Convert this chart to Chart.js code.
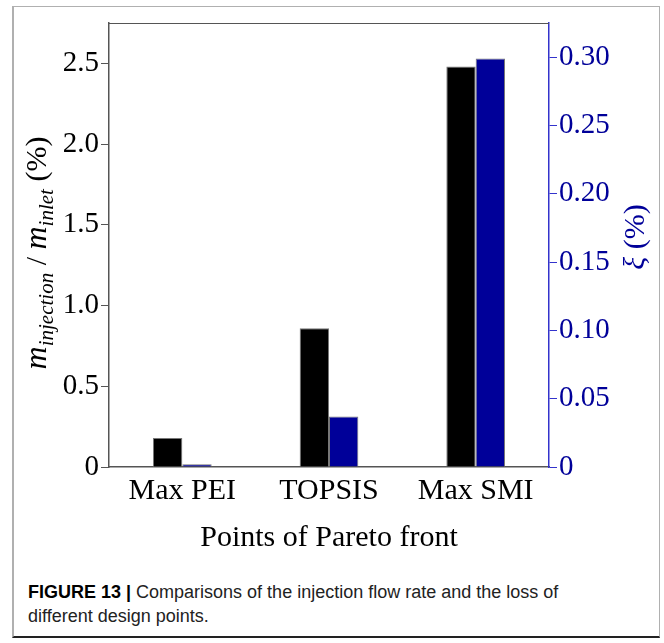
<!DOCTYPE html>
<html>
<head>
<meta charset="utf-8">
<script src="https://cdn.jsdelivr.net/npm/chart.js@4.4.1/dist/chart.umd.min.js"></script>
<style>
body{margin:0;background:#fff;}
#frame{position:absolute;left:12px;top:6px;width:645px;height:629px;border-left:2px solid #b0b0b0;border-top:1px solid #b0b0b0;border-right:1px solid #b0b0b0;border-bottom:2px solid #222;}
#wrap{position:absolute;left:0;top:0;width:664px;height:560px;}
#caption{position:absolute;left:28px;top:580px;width:560px;font-family:"Liberation Sans",Arial,sans-serif;font-size:18px;line-height:24px;color:#222;}
#caption b{color:#000;}
</style>
</head>
<body>
<div id="frame"></div>
<div id="wrap"><canvas id="myChart" width="664" height="560"></canvas></div>
<div id="caption"><b>FIGURE 13 |</b> Comparisons of the injection flow rate and the loss of different design points.</div>
<script>
const categories = ['Max PEI', 'TOPSIS', 'Max SMI'];
const massRatio = [0.18, 0.86, 2.48];   // m_injection / m_inlet (%)
const lossXi = [0.002, 0.037, 0.299];   // xi (%)
const leftTicks = [0, 0.5, 1.0, 1.5, 2.0, 2.5];
const rightTicks = [0, 0.05, 0.10, 0.15, 0.20, 0.25, 0.30];

const serif = '"Liberation Serif", "Times New Roman", serif';
const blue = '#000099';

// axis titles with italic m and subscripts, drawn by hand
const axisTitles = {
    id: 'axisTitles',
    afterDraw(chart) {
        const ctx = chart.ctx;
        const area = chart.chartArea;
        ctx.save();
        // top edge of the plot box
        ctx.strokeStyle = '#555';
        ctx.lineWidth = 1;
        ctx.beginPath();
        ctx.moveTo(area.left, area.top + 0.5);
        ctx.lineTo(area.right, area.top + 0.5);
        ctx.stroke();

        // left title
        const parts = [
            {t: 'm', f: 'italic 32px ' + serif, dy: 0},
            {t: 'injection', f: 'italic 21px ' + serif, dy: 7},
            {t: ' / ', f: '30px ' + serif, dy: 0},
            {t: 'm', f: 'italic 32px ' + serif, dy: 0},
            {t: 'inlet', f: 'italic 21px ' + serif, dy: 7},
            {t: ' (%)', f: '30px ' + serif, dy: 0}
        ];
        let total = 0;
        parts.forEach(p => { ctx.font = p.f; p.w = ctx.measureText(p.t).width; total += p.w; });
        ctx.translate(46, 253);
        ctx.rotate(-Math.PI / 2);
        ctx.fillStyle = '#000';
        ctx.textBaseline = 'alphabetic';
        let x = -total / 2;
        parts.forEach(p => {
            ctx.font = p.f;
            ctx.fillText(p.t, x, p.dy);
            x += p.w;
        });
        ctx.restore();

        // right title
        ctx.save();
        ctx.translate(644, 237);
        ctx.rotate(-Math.PI / 2);
        ctx.fillStyle = blue;
        ctx.textBaseline = 'alphabetic';
        ctx.font = 'italic 30px ' + serif;
        const xw = ctx.measureText('ξ').width;
        ctx.font = '30px ' + serif;
        const pw = ctx.measureText(' (%)').width;
        let sx = -(xw + pw) / 2;
        ctx.font = 'italic 30px ' + serif;
        ctx.fillText('ξ', sx, 0);
        ctx.font = '30px ' + serif;
        ctx.fillText(' (%)', sx + xw, 0);
        ctx.restore();
    }
};

const data = {
    labels: categories,
    datasets: [{
        data: massRatio,
        yAxisID: 'y',
        backgroundColor: '#000',
        borderColor: '#777',
        borderWidth: 1,
        categoryPercentage: 0.4,
        barPercentage: 1.0
    }, {
        data: lossXi,
        yAxisID: 'y1',
        backgroundColor: blue,
        borderColor: '#777',
        borderWidth: 1,
        categoryPercentage: 0.4,
        barPercentage: 1.0
    }]
};

const config = {
    type: 'bar',
    data: data,
    plugins: [axisTitles],
    options: {
        responsive: false,
        animation: false,
        layout: {padding: {top: 23, left: 0, right: 0, bottom: 0}},
        plugins: {legend: {display: false}, tooltip: {enabled: false}},
        scales: {
            x: {
                grid: {display: false, drawTicks: false},
                border: {color: '#555', width: 1.5},
                ticks: {color: '#000', font: {family: serif, size: 30}, padding: 6},
                title: {display: true, text: 'Points of Pareto front', color: '#000',
                    font: {family: serif, size: 30}, padding: {top: 0, bottom: 4}},
                afterFit(scale) { scale.height = 93; }
            },
            y: {
                position: 'left',
                min: 0,
                max: 2.75,
                afterBuildTicks(scale) { scale.ticks = leftTicks.map(v => ({value: v})); },
                grid: {drawOnChartArea: false, tickLength: 8, color: '#555'},
                border: {color: '#555', width: 1.5},
                ticks: {
                    color: '#000', font: {family: serif, size: 29}, padding: 2,
                    callback: v => v === 0 ? '0' : v.toFixed(1)
                },
                afterFit(scale) { scale.width = 109; }
            },
            y1: {
                position: 'right',
                min: 0,
                max: 0.325,
                afterBuildTicks(scale) { scale.ticks = rightTicks.map(v => ({value: v})); },
                grid: {drawOnChartArea: false, tickLength: 8, color: '#3333cc'},
                border: {color: '#3333cc', width: 1.5},
                ticks: {
                    color: blue, font: {family: serif, size: 29}, padding: 2,
                    callback: v => v === 0 ? '0' : v.toFixed(2)
                },
                afterFit(scale) { scale.width = 115; }
            }
        }
    }
};

const myChart = new Chart(document.getElementById('myChart'), config);
</script>
</body>
</html>
